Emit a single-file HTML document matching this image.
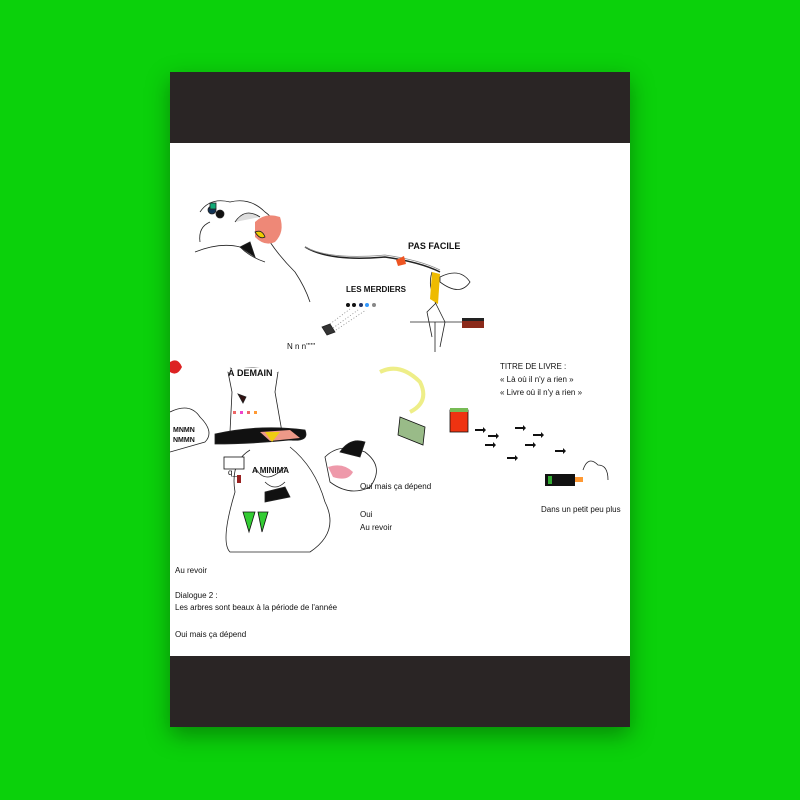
<!DOCTYPE html>
<html><head><meta charset="utf-8"><style>
html,body{margin:0;padding:0}
body{width:800px;height:800px;background:#0bd10b;position:relative;overflow:hidden;font-family:"Liberation Sans",sans-serif}
.book{position:absolute;left:170px;top:72px;width:460px;height:655px;background:#fff;box-shadow:0 8px 22px rgba(0,0,0,0.35)}
.band{position:absolute;left:0;width:460px;height:71px;background:#2a2525}
.t{position:absolute;font-size:8px;color:#111;white-space:nowrap}
.b{font-weight:bold}
svg{position:absolute;left:0;top:0}
</style></head><body>
<div class="book">
<div class="band" style="top:0"></div>
<div class="band" style="top:584px"></div>
<svg width="460" height="655" viewBox="0 0 460 655" fill="none" stroke="#222" stroke-width="0.8">
<!-- top left head -->
<path d="M30 140 Q40 125 60 130 Q80 125 95 140 Q110 150 100 170 Q110 185 125 200 Q135 215 140 230"/>
<path d="M25 180 Q50 170 70 175 Q80 185 95 190"/>
<path d="M30 170 Q28 155 40 150"/>
<circle cx="42" cy="138" r="4" fill="#135"/><circle cx="50" cy="142" r="4" fill="#111"/>
<rect x="40" y="131" width="6" height="6" fill="#1a7"/>
<path d="M85 150 q10 -10 25 -5 q5 15 -5 25 q-10 5 -20 -5z" fill="#e87" stroke="none"/>
<path d="M85 160 q5 8 10 5 q-3 -8 -10 -5z" fill="#ec0"/>
<path d="M70 175 l15 10 l-5 -15z" fill="#111"/>
<path d="M65 150 q10 -15 25 -5" fill="#ddd"/>
<!-- rope -->
<path d="M135 175 Q160 190 215 185 Q250 190 270 200" stroke-width="1.5"/>
<path d="M135 175 Q160 188 215 183 Q250 188 270 198" stroke="#888"/>
<path d="M226 188 l8 -4 l2 8 l-8 2z" fill="#e52" stroke="none"/>
<!-- small figure right -->
<path d="M262 200 q-5 15 5 30 l-10 10 l5 25 M265 230 l10 20 l-5 25"/>
<path d="M262 200 l8 2 l-2 30 l-8 -5z" fill="#eb0" stroke="none"/>
<path d="M270 205 q20 -10 30 5 q-10 15 -30 0z"/>
<path d="M240 250 l60 0 M265 250 l0 30"/>
<rect x="292" y="246" width="22" height="10" fill="#8b2a1a" stroke="none"/><rect x="292" y="246" width="22" height="3" fill="#222" stroke="none"/>
<g fill="#111" stroke="none"><circle cx="178" cy="233" r="2"/><circle cx="184" cy="233" r="2"/><circle cx="191" cy="233" r="2" fill="#236"/><circle cx="197" cy="233" r="2" fill="#39f"/><circle cx="204" cy="233" r="2" fill="#888"/></g>
<path d="M152 255 l8 -3 l5 8 l-8 3z" fill="#333"/>
<path d="M160 252 l20 -15 M163 256 l25 -18 M166 258 l30 -20" stroke-dasharray="1 2" stroke="#888"/>
<!-- tall hat figure -->
<path d="M58 300 Q80 292 108 300 L105 320 L112 360 L60 360 L62 320z"/>
<rect x="58" y="296" width="50" height="4" fill="#fff" stroke="none"/>
<path d="M68 322 l8 3 l-3 6z" fill="#311"/>
<g fill="#e66" stroke="none"><rect x="63" y="339" width="3" height="3"/><rect x="70" y="339" width="3" height="3" fill="#e4c"/><rect x="77" y="339" width="3" height="3"/><rect x="84" y="339" width="3" height="3" fill="#f93"/></g>
<path d="M45 362 Q90 352 135 358 Q140 370 120 368 Q80 372 45 372z" fill="#111"/>
<path d="M90 360 l30 -2 l10 8 l-30 3z" fill="#e98" stroke="none"/>
<path d="M95 360 l15 0 l-8 10z" fill="#ec1" stroke="none"/>
<path d="M0 340 Q20 330 30 345 Q45 360 35 370 L0 380"/>
<path d="M80 378 Q60 390 65 420 Q50 470 60 480 L140 480 Q170 460 155 430 Q145 395 120 375"/>
<path d="M85 395 q10 20 30 0 M95 410 q10 10 20 0"/>
<path d="M95 420 l20 -5 l5 10 l-25 5z" fill="#111"/>
<path d="M73 440 l6 20 l6 -20z" fill="#3c3" stroke="#111"/><path d="M88 440 l4 20 l6 -20z" fill="#3c3" stroke="#111"/>
<rect x="67" y="403" width="4" height="8" fill="#922" stroke="none"/>
<rect x="54" y="385" width="20" height="12" fill="#fff" stroke="#111"/>
<path d="M155 385 Q170 370 195 380 Q215 395 200 415 Q180 425 160 410z"/>
<path d="M158 395 q15 -5 25 5 q-5 10 -20 5z" fill="#e9a" stroke="none"/>
<path d="M170 380 q10 -15 25 -10 l-5 15z" fill="#111"/>
<path d="M0 290 q8 -5 12 5 q-5 10 -12 5z" fill="#d22" stroke="none"/>
<!-- center burst -->
<path d="M210 300 q20 -10 40 10 q10 20 -10 30" stroke="#ee8" stroke-width="4"/>
<path d="M230 345 l25 10 l-2 18 l-25 -10z" fill="#9b8" stroke="#111"/>
<rect x="280" y="338" width="18" height="22" fill="#e31" stroke="#111"/><rect x="280" y="336" width="18" height="4" fill="#7b5" stroke="none"/>
<g fill="#111" stroke="none">
<path d="M305 357 l8 0 l0 -2 l3 3 l-3 3 l0 -2 l-8 0z"/>
<path d="M318 363 l8 0 l0 -2 l3 3 l-3 3 l0 -2 l-8 0z"/>
<path d="M345 355 l8 0 l0 -2 l3 3 l-3 3 l0 -2 l-8 0z"/>
<path d="M315 372 l8 0 l0 -2 l3 3 l-3 3 l0 -2 l-8 0z"/>
<path d="M337 385 l8 0 l0 -2 l3 3 l-3 3 l0 -2 l-8 0z"/>
<path d="M355 372 l8 0 l0 -2 l3 3 l-3 3 l0 -2 l-8 0z"/>
<path d="M363 362 l8 0 l0 -2 l3 3 l-3 3 l0 -2 l-8 0z"/>
<path d="M385 378 l8 0 l0 -2 l3 3 l-3 3 l0 -2 l-8 0z"/>
</g>
<rect x="375" y="402" width="30" height="12" fill="#111" stroke="none"/><rect x="378" y="404" width="4" height="8" fill="#3a3" stroke="none"/><rect x="405" y="405" width="8" height="5" fill="#f93" stroke="none"/>
<path d="M413 398 q5 -15 15 -5 q10 0 10 15"/>
</svg>
<div class="t b" style="left:238px;top:169px;font-size:9px">PAS FACILE</div>
<div class="t b" style="left:176px;top:213px;font-size:8px">LES MERDIERS</div>
<div class="t" style="left:117px;top:270px">N n n''''''</div>
<div class="t b" style="left:58px;top:296px;font-size:9px">À DEMAIN</div>
<div class="t b" style="left:3px;top:426px;font-size:7px;line-height:10px;top:354px">MNMN<br>NMMN</div>
<div class="t" style="left:58px;top:396px;font-size:8px">q_</div>
<div class="t b" style="left:82px;top:394px;font-size:8px">A MINIMA</div>
<div class="t" style="left:330px;top:288px;line-height:13px">TITRE DE LIVRE :<br>« Là où il n'y a rien »<br>« Livre où il n'y a rien »</div>
<div class="t" style="left:190px;top:410px">Oui mais ça dépend</div>
<div class="t" style="left:190px;top:436px;line-height:13px">Oui<br>Au revoir</div>
<div class="t" style="left:371px;top:433px">Dans un petit peu plus</div>
<div class="t" style="left:5px;top:494px">Au revoir</div>
<div class="t" style="left:5px;top:518px;line-height:12px">Dialogue 2 :<br>Les arbres sont beaux à la période de l'année</div>
<div class="t" style="left:5px;top:558px">Oui mais ça dépend</div>
</div>
</body></html>
